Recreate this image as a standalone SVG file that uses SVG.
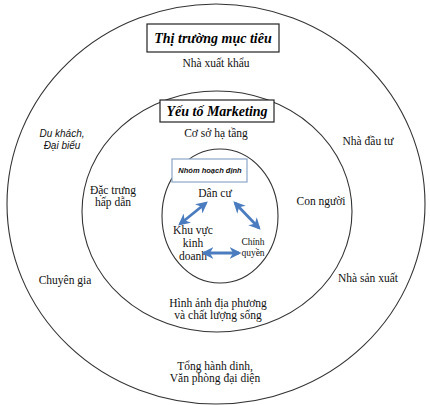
<svg xmlns="http://www.w3.org/2000/svg" width="430" height="405" viewBox="0 0 430 405">
<style>
.ring{fill:none;stroke:#333;stroke-width:1.1}
.t{font-family:"Liberation Serif",serif;font-size:11.5px;fill:#111;text-anchor:middle}
.ti{font-family:"Liberation Sans",sans-serif;font-style:italic;font-size:10px;fill:#111;text-anchor:middle}
.title{font-family:"Liberation Serif",serif;font-style:italic;font-weight:bold;font-size:14px;fill:#000;text-anchor:middle}
.box{fill:#fff;stroke:#222;stroke-width:1.2}
.arr{stroke:#4a7cbf;stroke-width:2.8;fill:none;marker-start:url(#ah);marker-end:url(#ah)}
</style>
<defs>
<marker id="ah" viewBox="0 0 10 10" refX="8" refY="5" markerWidth="4.2" markerHeight="4.2" orient="auto-start-reverse">
<path d="M0,0 L10,5 L0,10 L3,5 Z" fill="#4a7cbf"/>
</marker>
</defs>
<rect width="430" height="405" fill="#fff"/>
<g id="outer">
<ellipse class="ring" cx="216" cy="204" rx="209" ry="200"/>
<rect class="box" x="147" y="24" width="132" height="28"/>
<text class="title" x="213" y="43">Thị trường mục tiêu</text>
<text class="t" x="216" y="67">Nhà xuất khẩu</text>
<text class="ti" x="62" y="137">Du khách,</text>
<text class="ti" x="62" y="149">Đại biểu</text>
<text class="t" x="368" y="145">Nhà đầu tư</text>
<text class="t" x="65" y="284">Chuyên gia</text>
<text class="t" x="368" y="282">Nhà sản xuất</text>
<text class="t" x="215" y="370">Tổng hành dinh,</text>
<text class="t" x="215" y="382">Văn phòng đại diện</text>
</g>
<g id="middle">
<ellipse class="ring" cx="217" cy="211.5" rx="135" ry="120.5"/>
<rect class="box" x="160" y="100" width="114" height="22"/>
<text class="title" x="217" y="116">Yếu tố Marketing</text>
<text class="t" x="216" y="137">Cơ sở hạ tầng</text>
<text class="t" x="113" y="194">Đặc trưng</text>
<text class="t" x="113" y="206">hấp dẫn</text>
<text class="t" x="321" y="205">Con người</text>
<text class="t" x="218" y="307">Hình ảnh địa phương</text>
<text class="t" x="218" y="319">và chất lượng sống</text>
</g>
<g id="inner">
<ellipse class="ring" cx="220" cy="216" rx="58" ry="67"/>
<rect x="172" y="159" width="75" height="23" fill="#fff" stroke="#8aa6c8" stroke-width="1.2"/>
<text x="210" y="173" font-family="Liberation Sans,sans-serif" font-style="italic" font-weight="bold" font-size="7.5px" text-anchor="middle" fill="#111">Nhóm hoạch định</text>
<text class="t" x="215" y="197">Dân cư</text>
<text class="t" x="193" y="234">Khu vực</text>
<text class="t" x="193" y="247">kinh</text>
<text class="t" x="193" y="260">doanh</text>
<text class="t" x="253" y="245" style="font-size:9.5px">Chính</text>
<text class="t" x="253" y="256" style="font-size:9.5px">quyền</text>
</g>
<g id="connectors">
<line class="arr" x1="206" y1="203" x2="180" y2="224"/>
<line class="arr" x1="235" y1="203" x2="259" y2="228"/>
<line class="arr" x1="204" y1="253" x2="239" y2="253"/>
</g>
</svg>
